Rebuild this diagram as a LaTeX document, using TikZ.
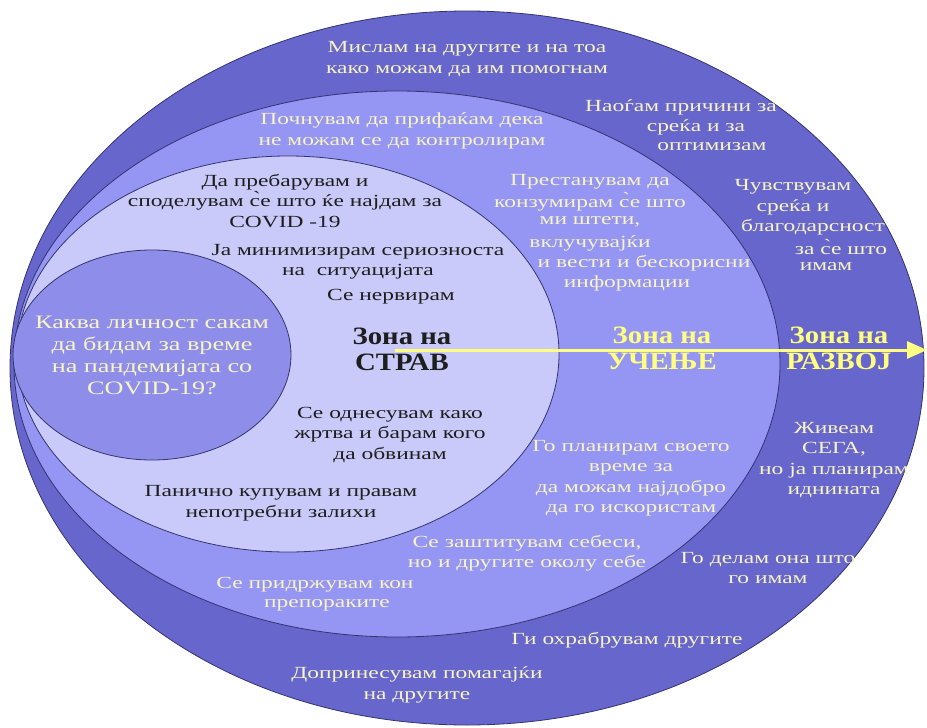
\documentclass[tikz,border=0pt]{standalone}
\usepackage{fontspec}
\setmainfont{Liberation Serif}[FakeStretch=1.38]
\newfontfamily\zonefont{Liberation Serif}[FakeStretch=1.15]
\usetikzlibrary{arrows.meta}
\definecolor{outerc}{HTML}{6666CC}
\definecolor{learnc}{HTML}{9595F3}
\definecolor{fearc}{HTML}{CACAFA}
\definecolor{innerc}{HTML}{8E8EEA}
\definecolor{edgec}{HTML}{34346E}
\definecolor{cream}{HTML}{F8F4C2}
\definecolor{zoney}{HTML}{FFFF80}
\definecolor{darktxt}{HTML}{1E1E1E}
\begin{document}
\begin{tikzpicture}[x=1pt,y=-1pt,
  zoneshape/.style={draw=edgec,line width=0.8pt},
  lt/.style={text=cream,font=\fontsize{17}{20.5}\selectfont,align=center,inner sep=0pt},
  dt/.style={text=darktxt,font=\fontsize{17}{20.5}\selectfont,align=center,inner sep=0pt},
  qt/.style={text=cream,font=\fontsize{19}{22}\selectfont,align=center,inner sep=0pt},
  zl/.style={font=\zonefont\bfseries\fontsize{25}{26}\selectfont,align=center,inner sep=0pt},
  growarrow/.style={draw=zoney,line width=3pt,-{Triangle[length=20pt,width=17pt]}},
]
\useasboundingbox (0,0) rectangle (927,728);
\fill[white] (0,0) rectangle (927,728);
% zones
\draw[zoneshape,fill=outerc] (467,368) ellipse [x radius=457pt,y radius=357pt];
\draw[zoneshape,fill=learnc] (397,364) ellipse [x radius=383pt,y radius=273pt];
\draw[zoneshape,fill=fearc] (288,354) ellipse [x radius=271pt,y radius=198pt];
\draw[zoneshape,fill=innerc] (152,355) ellipse [x radius=139pt,y radius=105pt];
% arrow
\coordinate (arrowstart) at (395,350);
\coordinate (arrowend) at (927,350);
\draw[growarrow] (arrowstart) -- (arrowend);
% outer zone texts
\node[lt] (o1) at (467,59) {Мислам на другите и на тоа\\како можам да им помогнам};
\node[lt] (o2a) at (681,107) {Наоѓам причини за};
\node[lt] (o2b) at (696,127) {среќа и за};
\node[lt] (o2c) at (712,147) {оптимизам};
\node[lt] (o3a) at (793,187) {Чувствувам};
\node[lt] (o3b) at (793,207) {среќа и};
\node[lt] (o3c) at (813,227) {благодарсност};
\node[lt] (o3d) at (841,247) {за с̀е што};
\node[lt] (o3e) at (826,267) {имам};
\node[lt] (o4) at (834,460) {Живеам\\СЕГА,\\но ја планирам\\иднината};
\node[lt] (o5) at (768,568) {Го делам она што\\го имам};
\node[lt] (o6) at (627,640) {Ги охрабрувам другите};
\node[lt] (o7) at (417,685) {Допринесувам помагајќи\\на другите};
% learning zone texts
\node[lt] (l1) at (402,131) {Почнувам да прифаќам дека\\не можам се да контролирам};
\node[lt] (l2a) at (590,182) {Престанувам да};
\node[lt] (l2b) at (590,202) {конзумирам с̀е што};
\node[lt] (l2c) at (590,222) {ми штети,};
\node[lt] (l2d) at (590,243) {вклучувајќи};
\node[lt] (l2e) at (644,263) {и вести и бескорисни};
\node[lt] (l2f) at (627,283) {информации};
\node[lt] (l3) at (631,478) {Го планирам своето\\време за\\да можам најдобро\\да го искористам};
\node[lt] (l4) at (527,553) {Се заштитувам себеси,\\но и другите околу себе};
\node[lt] (l5a) at (315,585) {Се придржувам кон};
\node[lt] (l5b) at (327,605) {препораките};
% fear zone texts
\node[dt] (f1) at (285,201) {Да пребарувам и\\споделувам с̀е што ќе најдам за\\COVID -19};
\node[dt] (f2) at (358,262) {Ја минимизирам сериозноста\\на\ \ ситуацијата};
\node[dt] (f3) at (391,297) {Се нервирам};
\node[dt] (f4) at (390,435) {Се однесувам како\\жртва и барам кого\\да обвинам};
\node[dt] (f5) at (281,503) {Панично купувам и правам\\непотребни залихи};
% inner question
\node[qt] (q) at (152,355) {Каква личност сакам\\да бидам за време\\на пандемијата со\\COVID-19?};
% zone labels
\node[zl,text=darktxt] (zfear) at (402,349) {Зона на\\СТРАВ};
\node[zl,text=zoney] (zlearn) at (662,348) {Зона на\\УЧЕЊЕ};
\node[zl,text=zoney] (zgrow) at (839,348) {Зона на\\РАЗВОЈ};
\end{tikzpicture}
\end{document}
